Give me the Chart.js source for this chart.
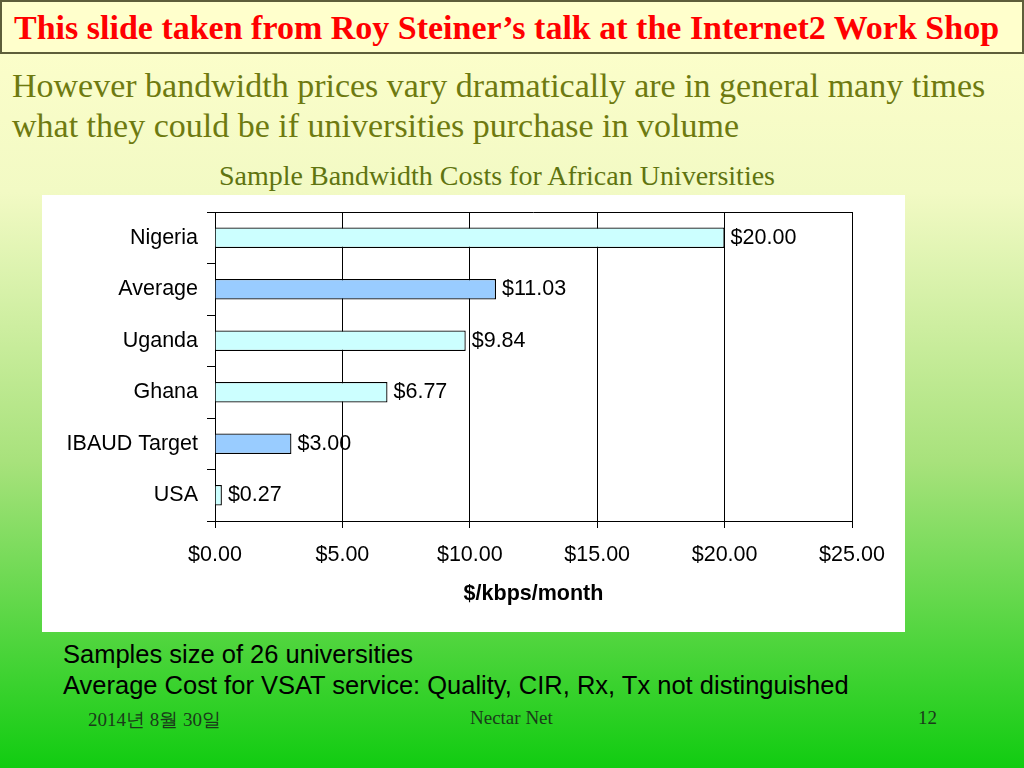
<!DOCTYPE html>
<html>
<head>
<meta charset="utf-8">
<script src="https://cdn.jsdelivr.net/npm/chart.js@4.4.1/dist/chart.umd.min.js"></script>
<style>
  body { margin: 0; width: 1024px; height: 768px; overflow: hidden;
         background: linear-gradient(to bottom, #ffffcc 0%, #f2fac4 25%, #a8e27c 60%, #11cc11 100%);
         position: relative; font-family: "Liberation Serif", "Times New Roman", serif; }
  #titlebox { position: absolute; left: 0; top: 0; width: 1020px; height: 50px;
              border: 2px solid #5e5e3a; background: #ffffcc; }
  #titlebox span { position: absolute; left: 12px; top: 7px; color: #ff0000; font-weight: bold;
                   font-size: 34px; white-space: nowrap; }
  #sub { position: absolute; left: 12px; top: 66px; color: #6e7a10; font-size: 34px; line-height: 40px; white-space: nowrap; }
  #ctitle { position: absolute; left: 0; width: 994px; text-align: center; top: 160px;
            color: #5f7410; font-size: 28px; white-space: nowrap; }
  #box { position: absolute; left: 42px; top: 195px; width: 863px; height: 437px; background: #fff; }
  #notes { position: absolute; left: 63px; top: 639px; font-family: "Liberation Sans", Arial, sans-serif;
           font-size: 25.5px; line-height: 31px; color: #000; white-space: nowrap; }
  .foot { position: absolute; top: 707px; font-size: 19px; color: #1a3a1a; white-space: nowrap; }
</style>
</head>
<body>
<div id="titlebox"><span>This slide taken from Roy Steiner’s talk at the Internet2 Work Shop</span></div>
<div id="sub">However bandwidth prices vary dramatically are in general many times<br>what they could be if universities purchase in volume</div>
<div id="ctitle">Sample Bandwidth Costs for African Universities</div>
<div id="box"><canvas id="costChart" width="863" height="437"></canvas></div>
<div id="notes">Samples size of 26 universities<br>Average Cost for VSAT service: Quality, CIR, Rx, Tx not distinguished</div>
<div class="foot" style="left:88px">2014년 8월 30일</div>
<div class="foot" style="left:470px">Nectar Net</div>
<div class="foot" style="left:918px">12</div>
<script>
const categories = ['Nigeria', 'Average', 'Uganda', 'Ghana', 'IBAUD Target', 'USA'];
const costs = [20.00, 11.03, 9.84, 6.77, 3.00, 0.27];
const barColors = ['#ccffff', '#99ccff', '#ccffff', '#ccffff', '#99ccff', '#ccffff'];
const xTicks = [0, 5, 10, 15, 20, 25];

const sansFont = '"Liberation Sans", Arial, sans-serif';

// value labels + top frame line
const labelPlugin = {
    id: 'valueLabels',
    afterDatasetsDraw(chart) {
        const c = chart.ctx;
        const area = chart.chartArea;
        c.save();
        c.strokeStyle = '#000';
        c.lineWidth = 1;
        c.beginPath();
        c.moveTo(area.left, Math.round(area.top) + 0.5);
        c.lineTo(area.right, Math.round(area.top) + 0.5);
        c.stroke();
        c.fillStyle = '#000';
        c.font = '21.5px ' + sansFont;
        c.textAlign = 'left';
        c.textBaseline = 'middle';
        chart.getDatasetMeta(0).data.forEach((bar, i) => {
            c.fillText('$' + costs[i].toFixed(2), bar.x + 6, bar.y);
        });
        c.restore();
    }
};

const ctx = document.getElementById('costChart').getContext('2d');

const chart = new Chart(ctx, {
    type: 'bar',
    data: {
        labels: categories,
        datasets: [{
            data: costs,
            backgroundColor: barColors,
            borderColor: '#000',
            borderWidth: 1.3,
            barPercentage: 0.4,
            categoryPercentage: 1
        }]
    },
    options: {
        indexAxis: 'y',
        responsive: false,
        animation: false,
        layout: { padding: { top: 17, right: 53, left: 0, bottom: 0 } },
        plugins: {
            legend: { display: false },
            tooltip: { enabled: false }
        },
        scales: {
            x: {
                min: xTicks[0],
                max: xTicks[xTicks.length - 1],
                afterFit: (s) => { s.height = 111; s.paddingLeft = 0; s.paddingRight = 0; },
                afterBuildTicks: (s) => { s.ticks = xTicks.map(v => ({ value: v })); },
                grid: { color: '#000', tickColor: '#000', tickLength: 7, lineWidth: 1 },
                border: { color: '#000', width: 1 },
                ticks: {
                    color: '#000',
                    padding: 14,
                    font: { family: sansFont, size: 21.5 },
                    callback: (v) => '$' + Number(v).toFixed(2)
                },
                title: {
                    display: true,
                    text: '$/kbps/month',
                    color: '#000',
                    font: { family: sansFont, size: 21.5, weight: 'bold' },
                    padding: { top: 0, bottom: 25 }
                }
            },
            y: {
                afterFit: (s) => { s.width = 173; s.paddingTop = 0; s.paddingBottom = 0; },
                offset: true,
                grid: { offset: true, drawOnChartArea: false, tickColor: '#000', tickLength: 8, color: '#000' },
                border: { color: '#000', width: 1 },
                ticks: {
                    color: '#000',
                    padding: 9,
                    font: { family: sansFont, size: 21.5 }
                }
            }
        }
    },
    plugins: [labelPlugin]
});
</script>
</body>
</html>
